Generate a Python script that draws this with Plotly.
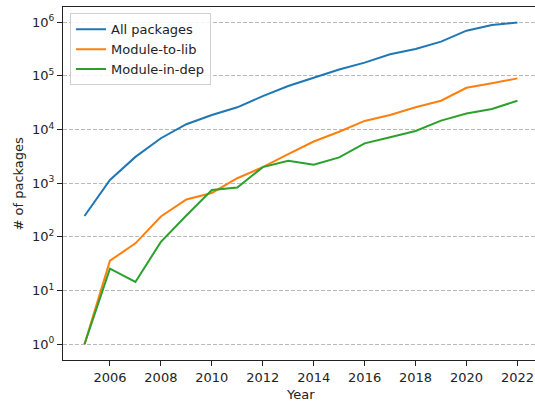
import plotly.graph_objects as go

years = list(range(2005, 2023))
all_packages = [245, 1150, 3100, 6900, 12600, 18700, 26000, 42000, 65000, 94000,
                132000, 177000, 253000, 317000, 436000, 696000, 890000, 985000]
module_to_lib = [1, 36, 76, 240, 500, 660, 1240, 2000, 3500, 6000,
                 9100, 14500, 18700, 26000, 34500, 60000, 73000, 90000]
module_in_dep = [1, 25.6, 14.5, 81, 250, 750, 830, 2000, 2630, 2220,
                 3040, 5540, 7200, 9400, 14700, 20000, 24200, 34500]

series_names = ["All packages", "Module-to-lib", "Module-in-dep"]
series_colors = ["#1f77b4", "#ff7f0e", "#2ca02c"]

y_tickvals = [1, 10, 100, 1000, 10000, 100000, 1000000]
y_ticktext = ["10<sup>%d</sup>" % i for i in range(7)]
x_tickvals = [2006, 2008, 2010, 2012, 2014, 2016, 2018, 2020, 2022]

fig = go.Figure()
for name, vals, col in zip(series_names, [all_packages, module_to_lib, module_in_dep], series_colors):
    fig.add_trace(go.Scatter(x=years, y=vals, mode="lines", name=name,
                             line=dict(color=col, width=2)))

font = dict(family="DejaVu Sans", size=13, color="#222222")

fig.update_layout(
    width=535, height=404,
    margin=dict(l=63, r=0, t=7, b=44),
    paper_bgcolor="white", plot_bgcolor="white",
    font=font,
    showlegend=True,
    legend=dict(x=0.0148, y=0.982, xanchor="left", yanchor="top",
                bgcolor="rgba(255,255,255,0.85)", bordercolor="#d0d0d0", borderwidth=1,
                font=dict(family="DejaVu Sans", size=13, color="#222222"),
                tracegroupgap=0),
    xaxis=dict(range=[2004.156, 2022.69], tickvals=x_tickvals,
               showgrid=False, zeroline=False, automargin=False,
               showline=True, linecolor="#222222", linewidth=1.1, mirror=True,
               ticks="outside", ticklen=5, tickwidth=1.1, tickcolor="#222222",
               tickfont=font),
    yaxis=dict(type="log", range=[-0.293, 6.284], tickvals=y_tickvals, ticktext=y_ticktext,
               showgrid=True, gridcolor="#b8b8b8", gridwidth=1, griddash="4px,2px",
               zeroline=False, automargin=False,
               showline=True, linecolor="#222222", linewidth=1.1, mirror=False,
               ticks="outside", ticklen=5, tickwidth=1.1, tickcolor="#222222",
               tickfont=font),
    annotations=[
        dict(text="Year", xref="paper", yref="paper", x=0.504, y=-0.099,
             xanchor="center", yanchor="middle", showarrow=False, font=font),
        dict(text="# of packages", xref="paper", yref="paper", x=-0.0953, y=0.5,
             xanchor="center", yanchor="middle", showarrow=False, textangle=-90, font=font),
    ],
)

fig.write_html("out.html", config={"displayModeBar": False},
               post_script="document.body.style.margin='0';document.body.style.overflow='hidden';")
